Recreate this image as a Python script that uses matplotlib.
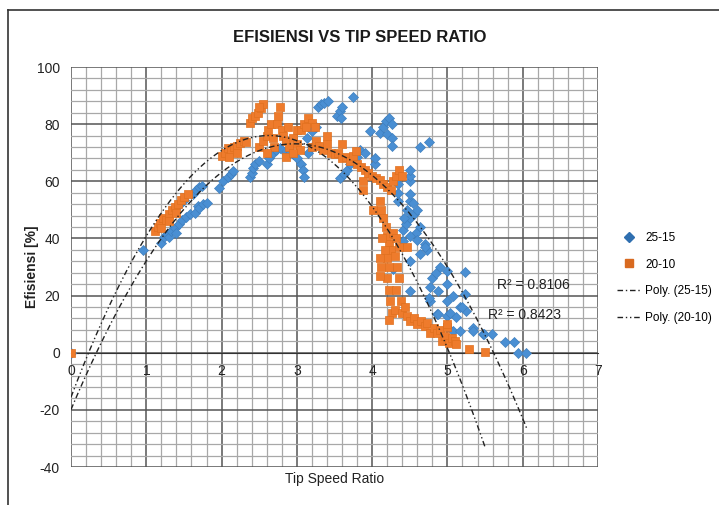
import numpy as np
import matplotlib
matplotlib.use("Agg")
import matplotlib.pyplot as plt
from matplotlib.lines import Line2D

plt.rcParams['font.family'] = ['Liberation Sans Narrow', 'Liberation Sans', 'DejaVu Sans']
plt.rcParams['axes.unicode_minus'] = False

# series 25-15 (x = tip speed ratio, y = efisiensi %)
x_25_15 = [0.0, 0.95, 1.2, 1.23, 1.28, 1.3, 1.33, 1.38, 1.4, 1.43, 1.48, 1.53, 1.58,
           1.45, 1.5, 1.65, 1.68, 1.7, 1.75, 1.8, 1.62, 1.66, 1.7, 1.74,
           1.96, 2.02, 2.08, 2.12, 2.15, 2.38, 2.4, 2.42, 2.45, 2.5, 2.6, 2.63,
           2.68, 2.72, 2.78, 2.85, 2.91, 2.95, 3.0, 3.05, 3.08, 3.1, 3.15, 3.2,
           3.13, 3.2, 3.25, 3.28, 3.32, 3.36, 3.41, 3.53, 3.57, 3.6, 3.58, 3.74,
           3.57, 3.62, 3.66, 3.7, 3.75, 3.8, 3.84, 3.9, 3.97, 4.1, 4.15, 4.18,
           4.22, 4.26, 4.2, 4.26, 4.26, 4.63, 4.75, 4.04, 4.04, 4.5, 4.5, 4.5,
           4.5, 4.5, 4.46, 4.54, 4.34, 4.34, 4.34, 4.41, 4.45, 4.5, 4.55, 4.6,
           4.63, 4.58, 4.42, 4.41, 4.5, 4.6, 4.7, 4.73, 4.5, 4.63, 4.7, 4.28,
           4.77, 4.8, 4.85, 4.9, 4.99, 5.23, 4.87, 4.99, 4.5, 4.77, 4.75, 4.86,
           4.99, 4.99, 4.99, 5.17, 5.25, 5.12, 5.34, 5.47, 5.08, 4.87, 5.23, 5.19,
           5.34, 5.48, 5.59, 5.76, 5.88, 5.94, 6.05, 5.03, 5.07, 5.17]
y_25_15 = [0.0, 35.9, 38.5, 40.5, 41.5, 40.5, 42.5, 43.5, 42.0, 45.0, 46.5, 47.5, 48.5,
           52.0, 53.5, 49.0, 51.5, 50.5, 52.0, 52.5, 55.6, 57.0, 58.0, 58.5,
           57.6, 60.0, 61.5, 62.5, 63.5, 61.4, 63.0, 64.5, 66.0, 67.0, 66.0, 68.0,
           70.0, 71.0, 71.5, 70.0, 70.0, 69.5, 68.0, 66.0, 64.0, 61.5, 70.0, 72.0,
           75.0, 77.5, 79.0, 86.0, 87.0, 87.5, 88.0, 83.0, 84.5, 86.0, 82.0, 89.4,
           61.0, 62.5, 64.0, 66.0, 67.0, 68.5, 71.0, 70.0, 77.7, 77.0, 79.0, 81.0,
           82.0, 80.0, 76.5, 75.0, 72.5, 71.9, 73.6, 66.0, 68.0, 60.0, 62.0, 64.0,
           53.0, 55.5, 50.0, 52.5, 53.0, 56.0, 59.0, 43.0, 45.0, 47.0, 48.5, 50.0,
           44.0, 42.0, 47.0, 39.0, 41.0, 39.5, 38.0, 36.0, 32.0, 34.6, 36.9, 29.4,
           23.0, 26.0, 28.0, 30.0, 28.7, 28.1, 21.7, 24.0, 21.7, 18.2, 19.0, 13.6,
           9.0, 13.0, 18.0, 15.9, 14.7, 12.4, 8.8, 6.6, 7.7, 13.6, 20.5, 15.9,
           7.7, 6.5, 6.5, 3.6, 3.8, 0.0, 0.0, 14.0, 20.0, 7.7]

# series 20-10
x_20_10 = [0.0, 1.12, 1.15, 1.18, 1.22, 1.26, 1.3, 1.34, 1.38, 1.42, 1.46, 1.5, 1.55,
           1.2, 1.3, 1.4, 2.0, 2.05, 2.08, 2.12, 2.16, 2.2, 2.25, 2.3, 2.33, 2.1,
           2.2, 2.38, 2.41, 2.44, 2.48, 2.52, 2.55, 2.5, 2.5, 2.55, 2.6, 2.62,
           2.65, 2.68, 2.7, 2.73, 2.75, 2.77, 2.8, 2.82, 2.85, 2.88, 2.9, 2.95,
           3.0, 3.04, 2.6, 2.85, 2.95, 3.0, 3.06, 3.1, 3.15, 3.2, 3.24, 3.12,
           3.2, 3.25, 3.3, 3.35, 3.4, 3.45, 3.5, 3.55, 3.6, 3.65, 3.7, 3.75,
           3.78, 3.8, 3.85, 3.9, 3.95, 4.0, 4.05, 4.1, 4.15, 4.2, 4.25, 3.4, 3.6,
           3.88, 3.88, 4.01, 4.28, 4.32, 4.36, 4.4, 4.1, 4.12, 4.15, 4.18, 4.2,
           4.22, 4.25, 4.13, 4.17, 4.2, 4.22, 4.2, 4.22, 4.24, 4.26, 4.22, 4.1,
           4.12, 4.1, 4.28, 4.32, 4.35, 4.3, 4.33, 4.35, 4.32, 4.38, 4.3, 4.4,
           4.46, 4.46, 4.44, 4.5, 4.55, 4.6, 4.65, 4.7, 4.73, 4.77, 4.82, 4.86,
           4.9, 4.93, 4.97, 5.02, 5.06, 5.1, 5.12, 4.99, 5.0, 5.28, 5.5]
y_20_10 = [0.0, 42.7, 44.0, 45.5, 47.0, 46.5, 48.5, 50.0, 51.0, 52.0, 53.5, 54.5, 55.5,
           43.5, 46.0, 49.0, 69.0, 70.0, 71.5, 70.5, 72.0, 72.5, 73.5, 74.0, 73.6, 68.5,
           70.0, 80.5, 82.0, 83.0, 84.0, 85.5, 87.0, 86.0, 72.0, 74.0, 76.0, 78.0,
           80.0, 75.0, 72.0, 80.0, 83.0, 86.0, 78.0, 76.0, 74.0, 79.0, 72.0, 75.0,
           73.0, 71.0, 70.0, 68.5, 70.0, 78.0, 78.0, 80.0, 82.0, 80.5, 79.0, 79.0,
           72.0, 74.0, 72.5, 71.0, 73.0, 70.0, 69.5, 70.0, 68.0, 68.5, 67.0, 69.0,
           70.5, 66.0, 65.0, 64.0, 63.0, 62.0, 61.0, 60.5, 59.0, 58.0, 57.0, 76.0, 73.0,
           57.0, 60.0, 50.0, 60.0, 62.0, 64.0, 62.0, 53.0, 50.0, 47.0, 44.0, 41.0,
           38.0, 36.0, 40.0, 36.0, 33.0, 30.0, 26.0, 22.0, 18.0, 14.0, 11.5, 27.0,
           30.0, 33.0, 42.0, 40.0, 37.0, 34.0, 30.0, 26.0, 22.0, 18.0, 15.0, 14.0,
           13.0, 36.9, 16.0, 11.0, 12.0, 10.0, 11.0, 9.5, 10.5, 7.0, 8.5, 6.8,
           8.0, 4.0, 6.0, 3.5, 5.0, 4.0, 3.0, 8.9, 10.0, 1.3, 0.3]

labels = ['25-15', '20-10']
r2_text = ['R² = 0.8106', 'R² = 0.8423']

blue = '#4a8fd3'
orange = '#ee7b2c'

fig = plt.figure(figsize=(7.19, 5.05), dpi=100)
ax = fig.add_axes([0.0988, 0.0752, 0.7329, 0.7921])

ax.set_xlim(0, 7)
ax.set_ylim(-40, 100)
ax.set_xticks(np.arange(0, 8, 1))
ax.set_yticks(np.arange(-40, 101, 20))
ax.set_xticks(np.arange(0, 7.01, 0.2), minor=True)
ax.set_yticks(np.arange(-40, 101, 4), minor=True)
ax.grid(which='minor', color='#a8a8a8', lw=0.9)
ax.grid(which='major', color='#555555', lw=1.1)
ax.set_axisbelow(True)
for s in ['top', 'right', 'left']:
    ax.spines[s].set_visible(False)
ax.spines['bottom'].set_position(('data', 0))
ax.spines['bottom'].set_color('#333333')
ax.tick_params(which='both', length=0)
ax.tick_params(axis='x', labelsize=10, pad=8, labelcolor='#222222')
ax.tick_params(axis='y', labelsize=10, pad=8, labelcolor='#222222')

ax.scatter(x_25_15, y_25_15, marker='D', s=26, color=blue, edgecolors='#3f7fbf',
           linewidths=0.5, zorder=3, label=labels[0])
ax.scatter(x_20_10, y_20_10, marker='s', s=30, color=orange, edgecolors='#e0701f',
           linewidths=0.5, zorder=3, label=labels[1])

# second order polynomial trend lines, as Excel does
styles = [(0, (4, 2, 1, 2)), (0, (4, 2, 1, 2, 1, 2))]
for i, (xs, ys) in enumerate([(x_25_15, y_25_15), (x_20_10, y_20_10)]):
    c = np.polyfit(xs, ys, 2)
    xx = np.linspace(min(xs), max(xs), 200)
    ax.plot(xx, np.polyval(c, xx), color='#222222', lw=1.0, ls=styles[i],
            zorder=4, label='Poly. (' + labels[i] + ')')

ax.text(6.14, 23.8, r2_text[0], fontsize=10, ha='center', va='center', color='#222222')
ax.text(6.03, 13.3, r2_text[1], fontsize=10, ha='center', va='center', color='#222222')

fig.text(0.5, 1 - 38 / 505, 'EFISIENSI VS TIP SPEED RATIO', fontsize=12, fontweight='bold',
         color='#1a1a1a', ha='center', va='center')
ax.set_xlabel('Tip Speed Ratio', fontsize=10, color='#222222')
ax.xaxis.set_label_coords(0.5, -0.012)
ax.set_ylabel('Efisiensi [%]', fontsize=10, fontweight='bold', color='#222222')
ax.yaxis.set_label_coords(-0.06, 0.5)

handles = [Line2D([], [], ls='none', marker='D', ms=5.5, color='#2f6fb0'),
           Line2D([], [], ls='none', marker='s', ms=5.5, color='#d86a20'),
           Line2D([], [], color='#222222', lw=1.0, ls=styles[0]),
           Line2D([], [], color='#222222', lw=1.0, ls=styles[1])]
fig.legend(handles, labels + ['Poly. (25-15)', 'Poly. (20-10)'], loc='upper left',
           bbox_to_anchor=(0.858, 0.541), frameon=False, fontsize=8.5,
           handlelength=2.0, labelspacing=1.25, handletextpad=0.4, borderpad=0,
           borderaxespad=0)

# outer chart border
fig.add_artist(Line2D([8 / 719, 8 / 719], [0, 1 - 10 / 505], color='#333333', lw=1.2))
fig.add_artist(Line2D([8 / 719, 1], [1 - 10 / 505, 1 - 10 / 505], color='#333333', lw=1.2))

fig.savefig('out.png', dpi=100)
